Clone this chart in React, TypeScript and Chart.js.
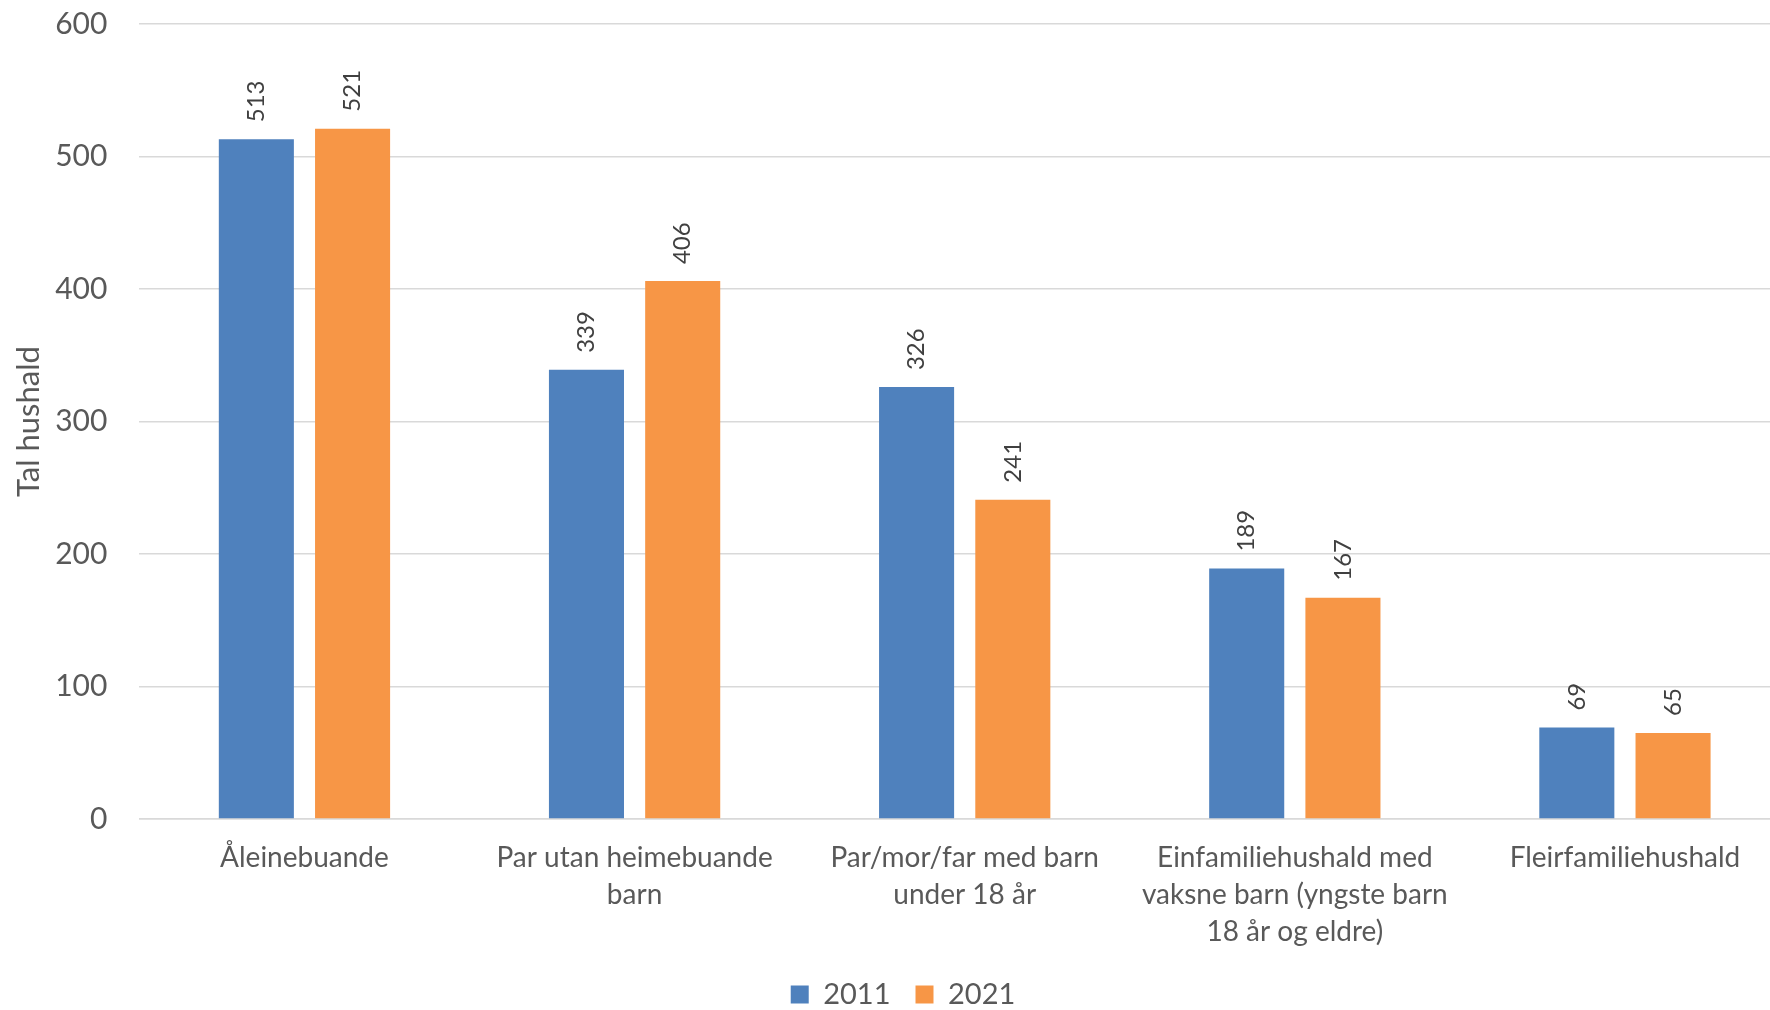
import React, { useEffect, useRef } from "react";
import { Chart, registerables } from "chart.js";

Chart.register(...registerables);

const categories: (string | string[])[] = [
  "Åleinebuande",
  ["Par utan heimebuande", "barn"],
  ["Par/mor/far med barn", "under 18 år"],
  ["Einfamiliehushald med", "vaksne barn (yngste barn", "18 år og eldre)"],
  "Fleirfamiliehushald",
];
const seriesNames = ["2011", "2021"];
const values2011 = [513, 339, 326, 189, 69];
const values2021 = [521, 406, 241, 167, 65];
const yMin = 0;
const yMax = 600;
const yStep = 100;
const yTitle = "Tal hushald";

const FONT = "Lato";
const TEXT = "#595959";

const barLabels = {
  id: "barLabels",
  afterDatasetsDraw(chart: any) {
    const ctx = chart.ctx;
    chart.data.datasets.forEach((ds: any, i: number) => {
      const meta = chart.getDatasetMeta(i);
      meta.data.forEach((bar: any, j: number) => {
        ctx.save();
        ctx.translate(bar.x, bar.y - 17);
        ctx.rotate(-Math.PI / 2);
        ctx.font = `24px ${FONT}`;
        ctx.fillStyle = "#404040";
        ctx.textAlign = "left";
        ctx.textBaseline = "middle";
        ctx.fillText(String(ds.data[j]), 0, 0);
        ctx.restore();
      });
    });
  },
};

const legendShift = {
  id: "legendShift",
  afterLayout(chart: any) {
    if (chart.legend) {
      chart.legend.left += 6;
      chart.legend.right += 6;
    }
  },
};

export default function App() {
  const ref = useRef<HTMLCanvasElement | null>(null);
  useEffect(() => {
    document.body.style.margin = "0";
    const canvas = ref.current;
    if (!canvas) return;
    const chart = new Chart(canvas, {
      type: "bar",
      data: {
        labels: categories,
        datasets: [
          {
            label: seriesNames[0],
            data: values2011,
            backgroundColor: "#4F81BD",
            categoryPercentage: 0.583,
            barPercentage: 0.78,
          },
          {
            label: seriesNames[1],
            data: values2021,
            backgroundColor: "#F79646",
            categoryPercentage: 0.583,
            barPercentage: 0.78,
          },
        ],
      },
      options: {
        responsive: false,
        animation: false,
        layout: { padding: { top: 0, left: 4, right: 0, bottom: -9 } },
        plugins: {
          legend: {
            position: "bottom",
            labels: {
              boxWidth: 18,
              boxHeight: 18,
              padding: 25,
              color: TEXT,
              font: { family: FONT, size: 29 },
            },
          },
          tooltip: { enabled: false },
        },
        scales: {
          x: {
            grid: { display: false },
            border: { display: true, color: "#d9d9d9", width: 1.5 },
            ticks: {
              color: TEXT,
              font: { family: FONT, size: 28, lineHeight: "37px" },
              padding: 12,
              maxRotation: 0,
              autoSkip: false,
            },
            afterFit: (scale: any) => {
              scale.height -= 7;
            },
          },
          y: {
            min: yMin,
            max: yMax,
            border: { display: false },
            grid: {
              color: "#d9d9d9",
              lineWidth: 1.5,
              drawTicks: true,
              tickLength: 26,
              tickColor: "rgba(0,0,0,0)",
            },
            ticks: {
              stepSize: yStep,
              color: TEXT,
              font: { family: FONT, size: 30 },
              padding: 6,
            },
            title: {
              display: true,
              text: yTitle,
              color: TEXT,
              font: { family: FONT, size: 31 },
              padding: { top: 6, bottom: 2 },
            },
          },
        },
      },
      plugins: [barLabels, legendShift],
    });
    return () => chart.destroy();
  }, []);
  return (
    <div style={{ width: 1770, height: 1010, overflow: "hidden" }}>
      <canvas ref={ref} width={1790} height={1010} style={{ display: "block" }} />
    </div>
  );
}
